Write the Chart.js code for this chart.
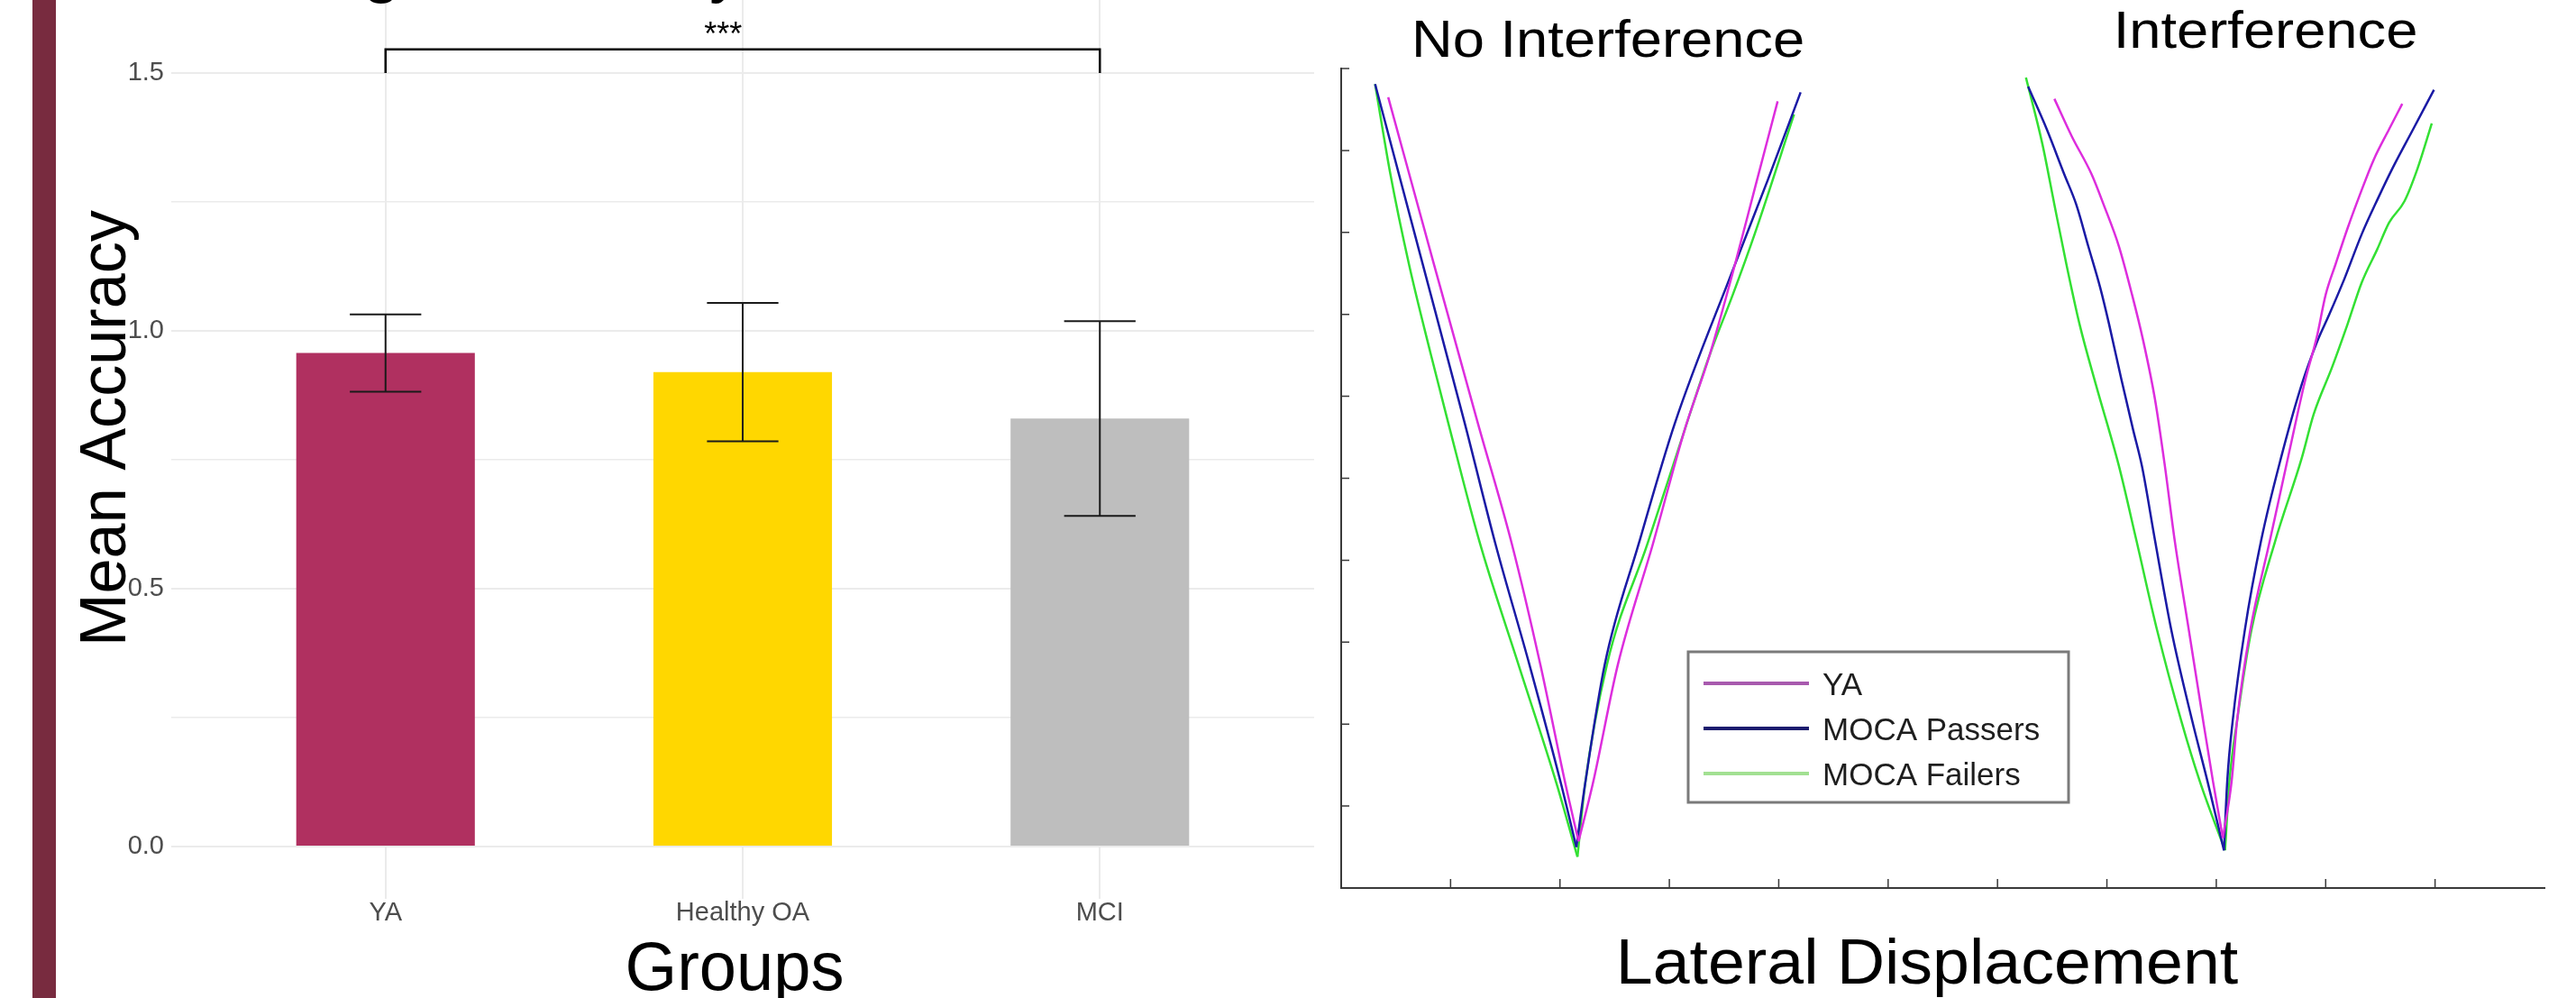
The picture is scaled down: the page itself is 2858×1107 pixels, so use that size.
<!DOCTYPE html>
<html>
<head>
<meta charset="utf-8">
<title>Mean accuracy by group and lateral displacement</title>
<script src="https://cdn.jsdelivr.net/npm/chart.js@4.4.1/dist/chart.umd.min.js"></script>
<style>
  html, body { margin:0; padding:0; background:#fff; }
  #page { position:relative; width:2858px; height:1107px; overflow:hidden; background:#fff; }
  #stripe { position:absolute; left:36px; top:0; width:26px; height:1107px; background:#782b3f; }
  #barBox { position:absolute; left:0; top:0; width:1460px; height:1107px; }
  #trajBox { position:absolute; left:1460px; top:0; width:1398px; height:1107px; }
</style>
</head>
<body>
<div id="page">
  <div id="stripe"></div>
  <div id="barBox"><canvas id="barChart"></canvas></div>
  <div id="trajBox"><canvas id="trajChart"></canvas></div>
</div>
<script>
// ---- bar chart data
const groups = ['YA', 'Healthy OA', 'MCI'];
const meanAcc = [0.957, 0.920, 0.830];
const accErr = [0.075, 0.134, 0.189];
const barColors = ['#B03060', '#FFD700', '#BEBEBE'];
const yTickLabels = [0, 0.5, 1.0, 1.5];
const yGridValues = [0, 0.25, 0.5, 0.75, 1.0, 1.25, 1.5];
const sigPair = [0, 2];
const sigHeight = 1.546;
const sigLabel = '***';

// ---- trajectory data, [lateral displacement, progress] pairs
const trajLabels = ['YA', 'MOCA Passers', 'MOCA Failers'];
const lineColors = ['#dd2ddd', '#1a1aa5', '#33e033'];
const legendSwatch = ['#a85aae', '#1c1c6e', '#a2e092'];
const panelTitles = ['No Interference', 'Interference'];
const panelTitleX = [2.44, 8.45];
const xTickVals = [0,1,2,3,4,5,6,7,8,9,10];
const yTickVals = [0,1,2,3,4,5,6,7,8,9,10];

const noIntYA = [[0.43,9.65],[0.84,7.65],[1.25,5.67],[1.56,4.20],[1.82,2.73],[2.05,1.27],[2.17,0.57],
  [2.30,1.27],[2.53,2.73],[2.85,4.20],[3.14,5.59],[3.37,6.51],[3.60,7.61],[3.78,8.53],[3.99,9.60]];
const noIntPass = [[0.31,9.81],[0.72,7.74],[1.13,5.67],[1.41,4.20],[1.72,2.73],[2.01,1.27],[2.15,0.50],
  [2.23,1.27],[2.41,2.73],[2.72,4.20],[3.05,5.67],[3.58,7.54],[3.90,8.64],[4.20,9.71]];
const noIntFail = [[0.31,9.81],[0.45,8.71],[0.62,7.61],[0.82,6.51],[0.98,5.67],[1.27,4.20],[1.62,2.73],[1.97,1.27],[2.16,0.38],
  [2.23,1.27],[2.43,2.73],[2.80,4.20],[3.14,5.59],[3.37,6.51],[3.58,7.24],[3.78,7.98],[4.14,9.44]];

const intYA = [[6.52,9.63],[6.68,9.17],[6.86,8.71],[6.97,8.34],[7.11,7.83],[7.23,7.24],[7.33,6.69],[7.44,5.96],
  [7.53,5.15],[7.62,4.24],[7.75,3.14],[7.88,2.04],[7.97,1.30],[8.06,0.61],
  [8.14,1.30],[8.19,2.04],[8.31,3.14],[8.49,4.24],[8.67,5.34],[8.81,6.18],[8.92,6.73],[9.00,7.24],[9.09,7.61],
  [9.20,8.05],[9.31,8.45],[9.44,8.89],[9.58,9.26],[9.70,9.57]];
const intPass = [[6.28,9.78],[6.45,9.26],[6.61,8.71],[6.72,8.34],[6.83,7.83],[6.94,7.32],[7.02,6.88],[7.13,6.22],
  [7.24,5.59],[7.32,5.15],[7.44,4.24],[7.59,3.14],[7.78,2.04],[7.92,1.30],[8.07,0.46],
  [8.10,1.30],[8.15,2.04],[8.26,3.14],[8.41,4.24],[8.59,5.24],[8.78,6.14],[8.92,6.66],[9.03,6.99],[9.17,7.43],
  [9.33,7.98],[9.48,8.42],[9.61,8.78],[9.80,9.26],[9.99,9.74]];
const intFail = [[6.26,9.89],[6.41,9.08],[6.52,8.34],[6.63,7.61],[6.75,6.88],[6.90,6.14],[7.11,5.15],[7.27,4.24],
  [7.46,3.14],[7.68,2.04],[7.85,1.30],[8.08,0.46],
  [8.12,1.30],[8.19,2.04],[8.32,3.14],[8.54,4.24],[8.78,5.24],[8.89,5.78],[9.06,6.36],[9.20,6.88],[9.33,7.39],
  [9.47,7.79],[9.58,8.12],[9.72,8.38],[9.84,8.78],[9.97,9.33]];

const FONT = '"Liberation Sans", Arial, Helvetica, sans-serif';
Chart.defaults.font.family = FONT;

// text helper: sx stretches horizontally, rot rotates (radians)
function drawLabel(ctx, txt, x, y, size, opts){
  const o = Object.assign({align:'center', sx:1, rot:0, color:'#000'}, opts||{});
  ctx.save();
  ctx.translate(x, y);
  if(o.rot) ctx.rotate(o.rot);
  ctx.scale(o.sx, 1);
  ctx.font = size + 'px ' + FONT;
  ctx.fillStyle = o.color;
  ctx.textAlign = o.align;
  ctx.textBaseline = 'alphabetic';
  ctx.fillText(txt, 0, 0);
  ctx.restore();
}

// no extra room for half-labels at the ends of an axis
function noLabelPad(s){
  s.paddingTop = 0; s.paddingBottom = 0; s.paddingLeft = 0; s.paddingRight = 0;
}

/* ================================================================ BARRAS */
const barExtras = {
  id: 'barExtras',
  afterDatasetsDraw(chart){
    const {ctx, scales:{x, y}} = chart;
    ctx.save();
    // error bars (cap = 0.2 category units wide)
    ctx.strokeStyle = '#1a1a1a';
    ctx.lineWidth = 2;
    meanAcc.forEach((m, i) => {
      const px = x.getPixelForValue(i);
      const half = x.getPixelForValue(i + 0.1) - px;
      const lo = y.getPixelForValue(m - accErr[i]);
      const hi = y.getPixelForValue(m + accErr[i]);
      ctx.beginPath();
      ctx.moveTo(px, lo); ctx.lineTo(px, hi);
      ctx.moveTo(px - half, lo); ctx.lineTo(px + half, lo);
      ctx.moveTo(px - half, hi); ctx.lineTo(px + half, hi);
      ctx.stroke();
    });
    // significance bracket
    const x0 = x.getPixelForValue(sigPair[0]), x1 = x.getPixelForValue(sigPair[1]);
    const yb = y.getPixelForValue(1.5), yt = y.getPixelForValue(sigHeight);
    ctx.strokeStyle = '#000';
    ctx.lineWidth = 2.5;
    ctx.beginPath();
    ctx.moveTo(x0, yb); ctx.lineTo(x0, yt); ctx.lineTo(x1, yt); ctx.lineTo(x1, yb);
    ctx.stroke();
    ctx.restore();
    drawLabel(ctx, sigLabel, x.getPixelForValue(0.945), y.getPixelForValue(1.555), 36);
  },
  afterDraw(chart){
    const ctx = chart.ctx;
    // title, cut off by the top edge
    drawLabel(ctx, 'Average Accuracy', 202, -12, 77, {align:'left'});
    drawLabel(ctx, 'Mean Accuracy', 139, 475, 73, {rot:-Math.PI/2, sx:0.962});
    drawLabel(ctx, 'Groups', 815, 1098, 76, {sx:0.975});
  }
};

new Chart(document.getElementById('barChart'), {
  type: 'bar',
  data: {
    datasets: [{
      data: meanAcc.map((v, i) => ({x:i, y:v})),
      backgroundColor: barColors,
      borderWidth: 0,
      categoryPercentage: 0.5,
      barPercentage: 1.0
    }]
  },
  options: {
    responsive: true, maintainAspectRatio: false, animation: false,
    layout: {padding: {left:0, right:2, top:0, bottom:0}},
    plugins: {legend: {display:false}, tooltip: {enabled:false}},
    scales: {
      x: {
        type: 'linear', min: -0.6, max: 2.6, offset: false,
        afterBuildTicks: s => { s.ticks = groups.map((g, i) => ({value:i})); },
        afterFit: s => { s.height = 110; noLabelPad(s); },
        grid: {color:'#ebebeb', lineWidth:2, drawTicks:false, offset:false},
        border: {display:false},
        ticks: {callback: v => groups[v], color:'#4d4d4d', font:{size:29, lineHeight:1}, padding:1, maxRotation:0, autoSkip:false}
      },
      y: {
        min: -0.1014, max: 1.6416,
        afterBuildTicks: s => { s.ticks = yGridValues.map(v => ({value:v})); },
        afterFit: s => { s.width = 190; noLabelPad(s); },
        grid: {color:'#ebebeb', drawTicks:false,
               lineWidth: c => (c.tick && yTickLabels.includes(c.tick.value)) ? 2 : 1.4},
        border: {display:false},
        ticks: {callback: v => yTickLabels.includes(v) ? v.toFixed(1) : '', color:'#4d4d4d', font:{size:29}, padding:8}
      }
    }
  },
  plugins: [barExtras]
});

/* ================================================================ TRAYECTORIAS */
// each V is split at its lowest point so the tip stays sharp while the arms are smoothed
function trajSets(points, c){
  const v = points.reduce((best, p, i) => p[1] < points[best][1] ? i : best, 0);
  return [points.slice(0, v + 1), points.slice(v)].map(part => ({
    label: trajLabels[c],
    data: part.map(p => ({x:p[0], y:p[1]})),
    showLine: true, borderColor: lineColors[c], borderWidth: 2.5,
    pointRadius: 0, cubicInterpolationMode: 'monotone', fill: false
  }));
}

const trajExtras = {
  id: 'trajExtras',
  afterDraw(chart){
    const {ctx, scales:{x, y}} = chart;
    ctx.save();
    // tick marks drawn inward, matlab style
    ctx.strokeStyle = '#3a3a3a';
    ctx.lineWidth = 1.5;
    ctx.beginPath();
    x.ticks.forEach(t => { const px = x.getPixelForValue(t.value); ctx.moveTo(px, y.bottom); ctx.lineTo(px, y.bottom - 10); });
    y.ticks.forEach(t => { const py = y.getPixelForValue(t.value); ctx.moveTo(x.left, py); ctx.lineTo(x.left + 9, py); });
    ctx.stroke();

    // legend box
    const bx = 413, by = 723, bw = 422, bh = 167;
    ctx.fillStyle = '#fff';
    ctx.fillRect(bx, by, bw, bh);
    ctx.strokeStyle = '#7a7a7a';
    ctx.lineWidth = 3;
    ctx.strokeRect(bx, by, bw, bh);
    trajLabels.forEach((lab, i) => {
      const ry = 758 + i * 50;
      ctx.strokeStyle = legendSwatch[i];
      ctx.lineWidth = 4;
      ctx.beginPath(); ctx.moveTo(430, ry); ctx.lineTo(547, ry); ctx.stroke();
      drawLabel(ctx, lab, 562, ry + 13, 35, {align:'left', color:'#1e1e1e'});
    });
    ctx.restore();

    panelTitles.forEach((t, i) => {
      drawLabel(ctx, t, x.getPixelForValue(panelTitleX[i]), i === 0 ? 63 : 53, 57, {sx:1.11});
    });
    drawLabel(ctx, 'Lateral Displacement', 678, 1091, 70, {sx:1.05});
  }
};

new Chart(document.getElementById('trajChart'), {
  type: 'scatter',
  data: {
    datasets: [
      ...trajSets(noIntYA, 0), ...trajSets(noIntPass, 1), ...trajSets(noIntFail, 2),
      ...trajSets(intYA, 0), ...trajSets(intPass, 1), ...trajSets(intFail, 2)
    ]
  },
  options: {
    responsive: true, maintainAspectRatio: false, animation: false,
    layout: {padding: {left:28, right:35, top:76, bottom:0}},
    plugins: {legend: {display:false}, tooltip: {enabled:false}},
    scales: {
      x: {
        type: 'linear', min: 0, max: 11,
        afterBuildTicks: s => { s.ticks = xTickVals.map(v => ({value:v})); },
        afterFit: s => { s.height = 122; noLabelPad(s); },
        grid: {display:false},
        border: {display:true, color:'#3a3a3a', width:2},
        ticks: {display:false}
      },
      y: {
        type: 'linear', min: 0, max: 10,
        afterBuildTicks: s => { s.ticks = yTickVals.map(v => ({value:v})); },
        afterFit: s => { s.width = 0; noLabelPad(s); },
        grid: {display:false},
        border: {display:true, color:'#3a3a3a', width:2},
        ticks: {display:false}
      }
    }
  },
  plugins: [trajExtras]
});
</script>
</body>
</html>
